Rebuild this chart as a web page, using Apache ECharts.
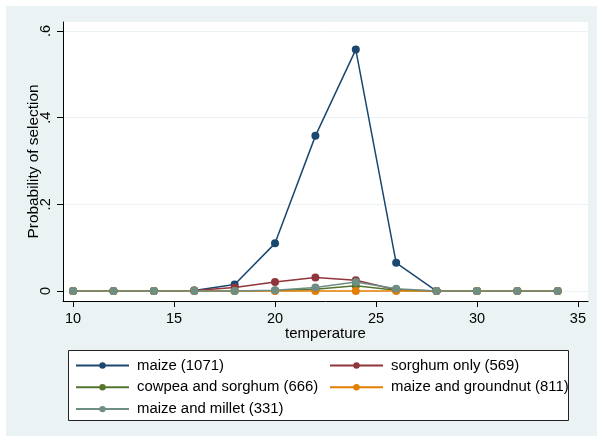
<!DOCTYPE html>
<html><head><meta charset="utf-8">
<script src="https://cdn.jsdelivr.net/npm/echarts@6/dist/echarts.min.js"></script>
<style>html,body{margin:0;padding:0;background:#fff}#c{width:597px;height:436px}</style>
</head><body><div id="c"></div>
<script>
const temperature = [10,12,14,16,18,20,22,24,26,28,30,32,34];
const maize      = [0,0,0,0.001,0.015,0.110,0.358,0.557,0.065,0,0,0,0];
const sorghum    = [0,0,0,0.001,0.008,0.021,0.031,0.025,0.003,0,0,0,0];
const cowpea     = [0,0,0,0,0,0.001,0.004,0.012,0.002,0,0,0,0];
const groundnut  = [0,0,0,0,0,0,0,0,0,0,0,0,0];
const millet     = [0,0,0,0,0,0.002,0.008,0.021,0.005,0,0,0,0];
const seriesNames = ['maize (1071)','sorghum only (569)','cowpea and sorghum (666)','maize and groundnut (811)','maize and millet (331)'];
const xTicks = [10,15,20,25,30,35];
const yTicks = [0,0.2,0.4,0.6];
const yTickLabels = ['0','.2','.4','.6'];
const colors = ['#1A476F','#90353B','#55752F','#E37E00','#6E8E84'];
const allData = [maize,sorghum,cowpea,groundnut,millet];

const chart = echarts.init(document.getElementById('c'));
const font = 'Arial, "Liberation Sans", sans-serif';
const legendText = {fontSize:14.9, color:'#000', fontFamily:font, padding:[0,0,0,3]};
chart.setOption({
  backgroundColor: 'transparent',
  animation: false,
  color: colors,
  textStyle: {fontFamily: font},
  graphic: [
    {type:'rect', z:-10, shape:{x:6,y:6,width:591,height:430}, style:{fill:'#EAF2F3'}},
    {type:'rect', z:-5, shape:{x:68.5,y:350.5,width:500,height:70}, style:{fill:'#fff', stroke:'#222', lineWidth:1}}
  ],
  grid: {left:63, top:22, width:525, height:279, show:true, backgroundColor:'#fff', borderWidth:0},
  xAxis: {
    type:'value', min:9.5, max:35.5,
    name:'temperature', nameLocation:'middle', nameGap:25, nameMoveOverlap:false,
    nameTextStyle:{fontSize:15, color:'#000', fontFamily:font},
    axisLine:{show:true, onZero:false, lineStyle:{color:'#000', width:1}},
    axisTick:{show:true, length:6, customValues:xTicks, lineStyle:{color:'#000'}},
    axisLabel:{customValues:xTicks, fontSize:14.5, color:'#000', margin:10, fontFamily:font},
    splitLine:{show:false}
  },
  yAxis: {
    type:'value', min:-0.023, max:0.6207,
    name:'Probability of selection', nameLocation:'middle', nameGap:22, nameMoveOverlap:false,
    nameTextStyle:{fontSize:15.4, color:'#000', fontFamily:font},
    axisLine:{show:true, onZero:false, lineStyle:{color:'#000', width:1}},
    axisTick:{show:true, length:6, customValues:yTicks, lineStyle:{color:'#000'}},
    axisLabel:{customValues:yTicks, rotate:90, fontSize:14.5, color:'#000', margin:10, fontFamily:font,
      formatter: v => { const i = yTicks.findIndex(t => Math.abs(t-v)<1e-9); return i>=0 ? yTickLabels[i] : ''; }},
    splitLine:{show:true, lineStyle:{color:'#EAF2F3', width:1}}
  },
  legend: [
    {data:[seriesNames[0],seriesNames[2],seriesNames[4]], orient:'vertical', left:75, top:358, padding:0, itemWidth:53, itemHeight:8, itemGap:6.8,
     textStyle:legendText},
    {data:[seriesNames[1],seriesNames[3]], orient:'vertical', left:329, top:358, padding:0, itemWidth:53, itemHeight:8, itemGap:6.8,
     textStyle:legendText}
  ],
  series: allData.map((d,i) => ({
    name: seriesNames[i], type:'line',
    data: d.map((v,j) => [temperature[j], v]),
    symbol:'circle', symbolSize:8, showSymbol:true,
    lineStyle:{width:1.5, color:colors[i]},
    itemStyle:{color:colors[i]}
  }))
});
</script></body></html>
